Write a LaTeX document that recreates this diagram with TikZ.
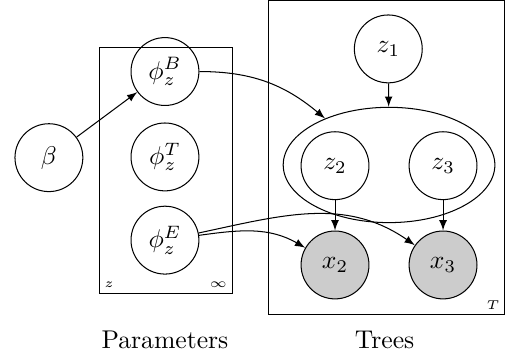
\documentclass[tikz,border=0pt]{standalone}
\usetikzlibrary{shapes.geometric}

\begin{document}
\begin{tikzpicture}[>=latex,
	latent/.style={circle, draw, minimum size=0.93cm, inner sep=0pt},
	obs/.style={latent, fill=black!20},
	plate/.style={draw, rectangle, inner sep=0pt},
	platelabel/.style={font=\tiny, inner sep=2pt}]

	\useasboundingbox (0,0) rectangle (6.96,4.93);

	% plates
	\node [plate, minimum width=1.82cm, minimum height=3.37cm] (params) at (2.27,2.60) {};
	\node [plate, minimum width=3.23cm, minimum height=4.30cm] (trees) at (5.30,2.77) {};
	\node [platelabel, anchor=south west] (pz) at (params.south west) {$z$};
	\node [platelabel, anchor=south east] (pinf) at (params.south east) {$\infty$};
	\node [platelabel, anchor=south east] (pT) at (trees.south east) {$T$};

	% parameters
	\node [latent] (beta) at (0.67,2.77) {$\beta$};
	\node [latent] (phiB) at (2.26,3.95) {$\phi_z^B$};
	\node [latent] (phiT) at (2.26,2.78) {$\phi_z^T$};
	\node [latent] (phiE) at (2.26,1.64) {$\phi_z^E$};

	% trees
	\node [latent] (z1) at (5.32,4.26) {$z_1$};
	\node [draw, ellipse, minimum width=2.90cm, minimum height=1.58cm] (pair) at (5.33,2.67) {};
	\node [latent] (z2) at (4.59,2.66) {$z_2$};
	\node [latent] (z3) at (6.07,2.66) {$z_3$};
	\node [obs] (x2) at (4.59,1.30) {$x_2$};
	\node [obs] (x3) at (6.07,1.30) {$x_3$};

	% edges
	\draw [->] (beta) -- (phiB);
	\draw [->] (phiB) to [out=0, in=140] (pair.144);
	\draw [->] (z1) -- (pair);
	\draw [->] (z2) -- (x2);
	\draw [->] (z3) -- (x3);
	\draw [->] (phiE) to [out=8, in=150] (x2);
	\draw [->] (phiE) to [out=12, in=145] (x3);

	% captions
	\node (cap1) at (2.26,0.27) {Parameters};
	\node (cap2) at (5.27,0.27) {Trees};

\end{tikzpicture}
\end{document}
